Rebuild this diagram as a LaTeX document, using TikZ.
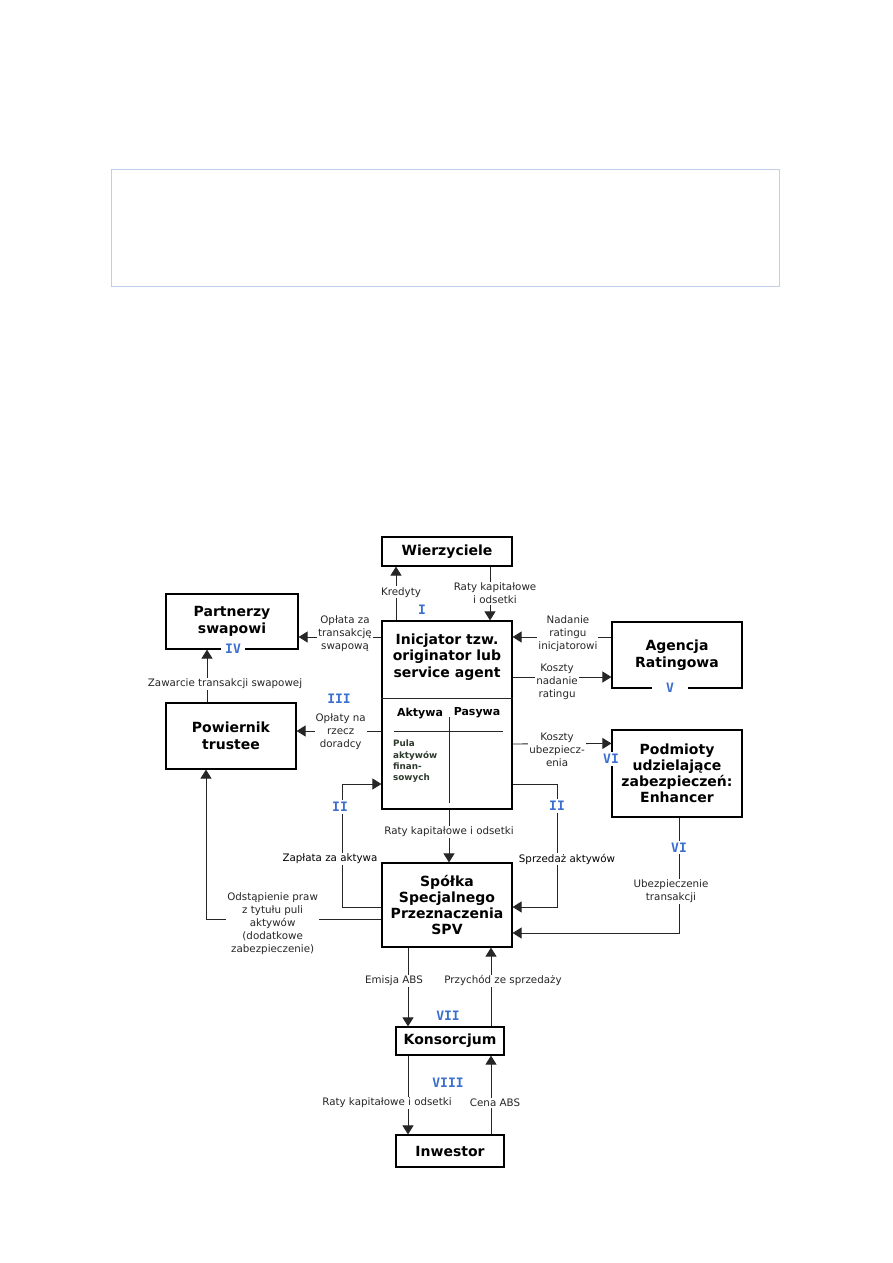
\documentclass[tikz,border=0pt]{standalone}
\usepackage{fontspec}
\setmainfont{DejaVu Sans}
\newfontfamily\stagefont{DejaVu Sans Mono}
\usepackage{tikz}
\usetikzlibrary{
  arrows.meta,
  positioning,
  calc
}
\definecolor{numblue}{RGB}{58,111,207}
\definecolor{framegray}{RGB}{192,207,232}
\definecolor{pulagreen}{RGB}{45,58,45}

\begin{document}
\begin{tikzpicture}[
  x=1pt, y=-1pt,
  % Node styles
  party/.style={
    rectangle,
    draw=black,
    line width=1.2pt,
    fill=white,
    inner sep=0pt,
    minimum width=130pt,
    font=\fontsize{14}{16.5}\selectfont\bfseries,
    align=center,
  },
  flowlabel/.style={
    fill=white,
    inner sep=1pt,
    font=\fontsize{10.3}{13}\selectfont,
    align=center,
  },
  stage/.style={
    fill=white,
    inner sep=2pt,
    text=numblue,
    font=\stagefont\fontsize{13}{14}\selectfont\bfseries,
  },
  arrow/.style={
    -{Triangle[length=9pt,width=11pt]},
    line width=0.9pt,
    black!85,
  },
  plain/.style={
    line width=0.9pt,
    black!85,
  },
]
\useasboundingbox (0,0) rectangle (893,1263);

% ── Empty frame at the top ──
\node[draw=framegray, line width=1pt, minimum width=668pt, minimum height=117pt] (frame) at (445,227.5) {};

% ── Helper levels ──
\coordinate (lvSwap) at (0,637);
\coordinate (lvRate) at (0,677);
\coordinate (lvFee) at (0,731);
\coordinate (lvIns) at (0,744);
\coordinate (lvPool) at (0,784);
\coordinate (lvSale) at (0,907);
\coordinate (lvCede) at (0,919);
\coordinate (lvCover) at (0,933);
\coordinate (bendL) at (342,0);
\coordinate (bendR) at (557,0);

% ── Boxes ──
\node[party, minimum height=29pt] (wierz) at (447,551.5) {Wierzyciele};
\node[party, minimum width=132pt, minimum height=55pt] (partner) at (232,621.5) {Partnerzy\\swapowi};
\node[party, minimum height=188pt] (inic) at (447,715) {};
\node[font=\fontsize{14}{16.5}\selectfont\bfseries, align=center] (inictxt) at (447,657) {Inicjator tzw.\\originator lub\\service agent};
\node[party, minimum height=66pt] (agencja) at (677,655) {Agencja\\Ratingowa};
\node[party, minimum height=87pt, font=\fontsize{14}{16}\selectfont\bfseries] (podm) at (677,773.5) {Podmioty\\udzielające\\zabezpieczeń:\\Enhancer};
\node[party, minimum height=66pt] (powier) at (231,736) {Powiernik\\trustee};
\node[party, minimum height=84pt, font=\fontsize{14}{16}\selectfont\bfseries] (spv) at (447,905) {Spółka\\Specjalnego\\Przeznaczenia\\SPV};
\node[party, minimum width=108pt, minimum height=28pt] (kons) at (450,1041) {Konsorcjum};
\node[party, minimum width=108pt, minimum height=32pt] (inwest) at (450,1151) {Inwestor};

% ── Balance sheet inside the originator ──
\draw[plain] (inic.west |- 0,698) -- (inic.east |- 0,698);
\node[font=\fontsize{11}{12}\selectfont\bfseries] (aktywa) at (420,713) {Aktywa};
\node[font=\fontsize{11}{12}\selectfont\bfseries] (pasywa) at (477,713) {Pasywa};
\draw[plain] (394,731) -- (503,731);
\draw[plain] (449,717) -- (449,803);
\node[anchor=north west, inner sep=0pt, text=pulagreen, align=left,
  font=\fontsize{8.8}{11.3}\selectfont\bfseries] (pula) at (393,740) {Pula\\aktywów\\finan-\\sowych};

% ── Arrows ──
% Originator ↔ Creditors
\draw[arrow] ([xshift=-51pt]inic.north) -- ([xshift=-51pt]wierz.south)
  node[flowlabel, pos=0.52, xshift=5pt] {Kredyty};
\draw[arrow] ([xshift=43pt]wierz.south) -- ([xshift=43pt]inic.north)
  node[flowlabel, pos=0.5, xshift=5pt] {Raty kapitałowe\\i odsetki};

% Originator → Swap partners
\draw[arrow] (inic.west |- lvSwap) -- (partner.east |- lvSwap)
  node[flowlabel, pos=0.44, yshift=3pt] {Opłata za\\transakcję\\swapową};

% Rating agency
\draw[arrow] (agencja.west |- lvSwap) -- (inic.east |- lvSwap)
  node[flowlabel, pos=0.44, yshift=3pt] {Nadanie\\ratingu\\inicjatorowi};
\draw[arrow] (inic.east |- lvRate) -- (agencja.west |- lvRate)
  node[flowlabel, pos=0.45, yshift=-5pt] {Koszty\\nadanie\\ratingu};

% Enhancer
\draw[arrow] (inic.east |- lvIns) -- ([yshift=-14pt]podm.north west)
  node[flowlabel, pos=0.45, yshift=-6pt] {Koszty\\ubezpiecz-\\enia};

% Trustee
\draw[arrow] (inic.west |- lvFee) -- (powier.east |- lvFee)
  node[flowlabel, pos=0.48, yshift=-1pt] {Opłaty na\\rzecz\\doradcy};
\draw[arrow] ([xshift=-24pt]powier.north) -- ([xshift=-25pt]partner.south)
  node[flowlabel, pos=0.35, xshift=18pt] {Zawarcie transakcji swapowej};

% Originator → SPV
\draw[arrow] ([xshift=2pt]inic.south) -- ([xshift=2pt]spv.north)
  node[flowlabel, pos=0.42] {Raty kapitałowe i odsetki};

% Pool sale loop (II)
\draw[arrow] (spv.west |- lvSale) -- (bendL |- lvSale) -- (bendL |- lvPool) -- (inic.west |- lvPool);
\node[flowlabel] (zaplata) at (330,859) {Zapłata za aktywa};
\node[stage] (iiL) at (340,807) {II};
\draw[arrow] (inic.east |- lvPool) -- (bendR |- lvPool) -- (bendR |- lvSale) -- (spv.east |- lvSale);
\node[flowlabel] (sprzedaz) at (567,859) {Sprzedaż aktywów};
\node[stage] (iiR) at (557,806) {II};

% SPV → Trustee
\draw[arrow] (spv.west |- lvCede) -| ([xshift=-25pt]powier.south)
  node[flowlabel, pos=0.31, yshift=-5pt] {Odstąpienie praw\\z tytułu puli\\aktywów\\(dodatkowe\\zabezpieczenie)};

% Enhancer → SPV
\draw[arrow] ([xshift=2pt]podm.south) |- (spv.east |- lvCover)
  node[stage, pos=0.13] {VI}
  node[flowlabel, pos=0.32, xshift=-8pt] {Ubezpieczenie\\transakcji};

% SPV ↔ Syndicate
\draw[arrow] ([xshift=-39pt]spv.south) -- ([xshift=-42pt]kons.north)
  node[flowlabel, pos=0.42, xshift=-14pt] {Emisja ABS};
\draw[arrow] ([xshift=41pt]kons.north) -- ([xshift=44pt]spv.south)
  node[flowlabel, pos=0.58, xshift=12pt] {Przychód ze sprzedaży};

% Syndicate ↔ Investor
\draw[arrow] ([xshift=-42pt]kons.south) -- ([xshift=-42pt]inwest.north)
  node[flowlabel, pos=0.6, xshift=-21pt] {Raty kapitałowe i odsetki};
\draw[arrow] ([xshift=41pt]inwest.north) -- ([xshift=41pt]kons.south)
  node[flowlabel, pos=0.4, xshift=4pt] {Cena ABS};

% ── Stage numbers ──
\node[stage, fill=none] (stI) at (422,610) {I};
\node[stage, inner xsep=4pt, inner ysep=1pt] (stIV) at (233,649) {IV};
\node[stage, inner xsep=14pt, inner ysep=1pt] (stV) at (670,688) {V};
\node[stage, inner xsep=1pt] (stVIa) at (611,759) {VI};
\node[stage, fill=none] (stIII) at (339,699) {III};
\node[stage, fill=none] (stVII) at (448,1016) {VII};
\node[stage, fill=none] (stVIII) at (448,1083) {VIII};

\end{tikzpicture}
\end{document}
